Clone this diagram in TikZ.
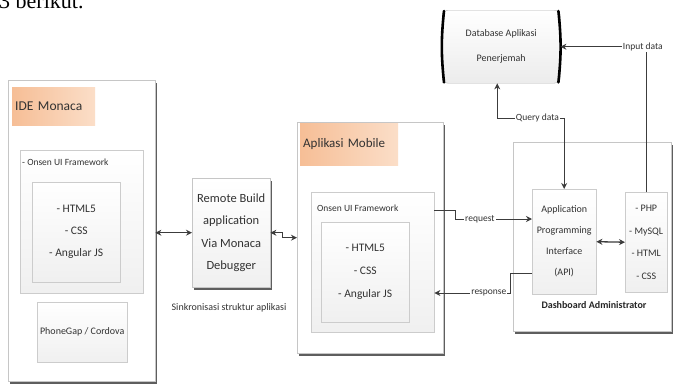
\documentclass[tikz,border=0pt]{standalone}
\usepackage{fontspec}
\setmainfont{Carlito}
\newfontfamily\introfont{Liberation Serif}
\usetikzlibrary{arrows.meta,calc,shadows}
\definecolor{peach}{RGB}{246,190,150}
\definecolor{peachlight}{RGB}{251,222,200}
\definecolor{linegray}{RGB}{60,60,60}
\definecolor{textgray}{RGB}{50,50,50}

\begin{document}
\begin{tikzpicture}[x=1pt,y=-1pt,
  >={Stealth[length=6pt,width=6pt]},
  outer/.style={draw=gray!45,fill=white,anchor=north west,inner sep=0pt,
    drop shadow={shadow xshift=1.5pt,shadow yshift=-2.5pt,fill=gray!60!black,opacity=0.9}},
  title/.style={anchor=north west,inner xsep=3pt,inner ysep=0pt,left color=peach,right color=peachlight,
    text width=#1,align=left,text=textgray,font=\fontsize{13.5}{15}\selectfont},
  frame/.style={draw=gray!40,anchor=north west,top color=white,bottom color=gray!12,inner sep=1pt,
    align=center,text=textgray,font=\fontsize{11.5}{22}\selectfont},
  small/.style={text=textgray,inner sep=1pt,font=\fontsize{9.5}{11}\selectfont},
  conn/.style={draw=linegray,line width=1pt},
  lbl/.style={fill=white,inner sep=1pt,text=textgray,font=\fontsize{9.5}{11}\selectfont},
  dbside/.style={line width=2.6pt,line cap=round}]
\useasboundingbox (0,0) rectangle (674,386);

\node[font=\introfont\fontsize{22}{24}\selectfont,anchor=base west,inner sep=0pt] (intro) at (-1,8.5) {3 berikut.};

% IDE Monaca
\node[outer,minimum width=147,minimum height=301] (ide) at (8,80) {};
\node[title=77pt,minimum height=38] (idetitle) at (12,87) {IDE Monaca};
\node[frame,minimum width=123,minimum height=143] (onsenA) at (20,150) {};
\node[small,anchor=west] (onsenAlbl) at (21,162) {- Onsen UI Framework};
\node[frame,minimum width=88,minimum height=100] (webA) at (32,182) {- HTML5\\- CSS\\- Angular JS};
\node[frame,minimum width=90,minimum height=60,font=\fontsize{10}{12}\selectfont] (cordova) at (37,302) {PhoneGap / Cordova};

% Remote build
\node[outer,top color=white,bottom color=gray!12,minimum width=78,minimum height=109,
  align=center,text=textgray,font=\fontsize{12.5}{22.5}\selectfont] (remote) at (192,178)
  {Remote Build\\application\\Via Monaca\\Debugger};
\node[small,font=\fontsize{10}{12}\selectfont] (sync) at (229,308) {Sinkronisasi struktur aplikasi};

% Aplikasi Mobile
\node[outer,minimum width=146,minimum height=231] (mobile) at (297,122) {};
\node[title=92pt,minimum height=42,font=\fontsize{13}{15}\selectfont] (mobiletitle) at (300,123) {Aplikasi Mobile};
\node[frame,minimum width=123,minimum height=140] (onsenB) at (311,192) {};
\node[small,anchor=west] (onsenBlbl) at (316,208) {Onsen UI Framework};
\node[frame,minimum width=88,minimum height=100,font=\fontsize{11.5}{23}\selectfont] (webB) at (321,222) {- HTML5\\- CSS\\- Angular JS};

% Dashboard
\node[outer,minimum width=158,minimum height=189] (dash) at (513,142) {};
\node[text=black!85,font=\bfseries\fontsize{10}{12}\selectfont] (dashlbl) at (594,305) {Dashboard Administrator};
\node[frame,minimum width=64,minimum height=105,font=\fontsize{10}{21}\selectfont] (api) at (532,189)
  {Application\\Programming\\Interface\\(API)};
\node[frame,minimum width=42,minimum height=100,font=\fontsize{10}{22.5}\selectfont] (php) at (625,192)
  {- PHP\\- MySQL\\- HTML\\- CSS};

% Database
\node[draw=gray!60,rounded corners=6pt,anchor=north west,top color=white,bottom color=gray!15,
  minimum width=118,minimum height=73,align=center,text=textgray,
  font=\fontsize{10}{25}\selectfont] (db) at (442,10) {Database Aplikasi\\Penerjemah};
\draw[dbside] ([xshift=2pt,yshift=-1pt]db.north west) to[bend right=6] ([xshift=2pt,yshift=1pt]db.south west);
\draw[dbside] ([xshift=-2pt,yshift=-1pt]db.north east) to[bend left=6] ([xshift=-2pt,yshift=1pt]db.south east);

% connectors
\draw[conn,<->,line width=1.3pt] (ide.east |- remote.west) -- (remote.west);
\draw[conn,<->] (remote.east) -- ++(12,0) |- (mobile.west);
\draw[conn,->] ($(onsenB.north east)+(0,18)$) -- ++(21,0) |- node[lbl,pos=0.66]{request} ($(api.north west)+(0,30)$);
\draw[conn,->] ($(api.north west)+(0,84)$) -- ++(-22,0) |- node[lbl,pos=0.64]{response} ($(onsenB.north east)+(0,101)$);
\draw[conn,<->,line width=1.3pt] (api.east) -- (php.west);
\draw[conn,<->] ($(db.south)+(-4,0)$) |- node[lbl,pos=0.8]{Query data} (api.north |- 0,118) -- (api.north);
\draw[conn,->] (php.north) |- node[lbl,pos=0.52]{Input data} (db.east);
\end{tikzpicture}
\end{document}
